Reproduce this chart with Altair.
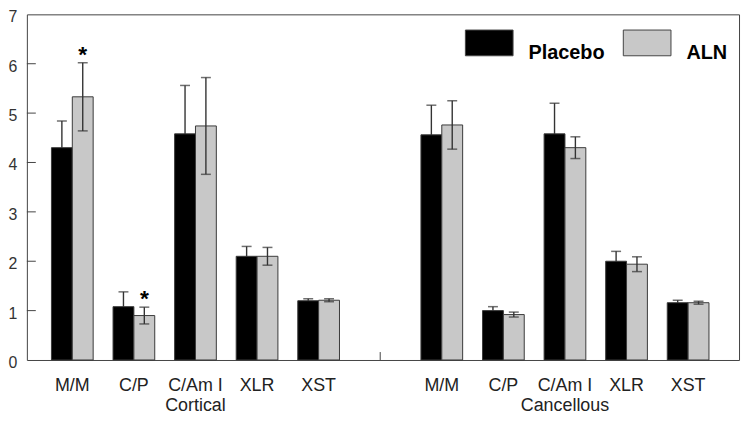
import altair as alt
import pandas as pd

# ---- data ----
sites = ["Cortical", "Cancellous"]
measures = ["M/M", "C/P", "C/Am I", "XLR", "XST"]
groups = ["Placebo", "ALN"]

cortical_placebo = [4.30, 1.08, 4.58, 2.10, 1.20]
cortical_placebo_err = [0.54, 0.30, 0.98, 0.20, 0.04]
cortical_aln = [5.33, 0.90, 4.74, 2.10, 1.21]
cortical_aln_err = [0.69, 0.17, 0.98, 0.18, 0.03]

cancellous_placebo = [4.56, 1.00, 4.58, 2.00, 1.16]
cancellous_placebo_err = [0.60, 0.08, 0.62, 0.20, 0.05]
cancellous_aln = [4.76, 0.92, 4.30, 1.94, 1.16]
cancellous_aln_err = [0.49, 0.05, 0.22, 0.15, 0.03]

# ALN significantly different from placebo (asterisks)
significant = [("Cortical", "M/M"), ("Cortical", "C/P")]

y_ticks = [0, 1, 2, 3, 4, 5, 6, 7]
inner_ticks = [1, 2, 3, 4, 5, 6]

# ---- table ----
GAP = "gap"
slots = [f"Cortical:{m}" for m in measures] + [GAP] + [f"Cancellous:{m}" for m in measures]

series = {
    ("Cortical", "Placebo"): (cortical_placebo, cortical_placebo_err),
    ("Cortical", "ALN"): (cortical_aln, cortical_aln_err),
    ("Cancellous", "Placebo"): (cancellous_placebo, cancellous_placebo_err),
    ("Cancellous", "ALN"): (cancellous_aln, cancellous_aln_err),
}
rows = []
for (site, grp), (vals, errs) in series.items():
    for m, v, e in zip(measures, vals, errs):
        rows.append({
            "slot": f"{site}:{m}", "group": grp, "value": v,
            "lo": v - e, "hi": v + e,
            "star": "*" if (grp == "ALN" and (site, m) in significant) else "",
        })
df = pd.DataFrame(rows)
df_placebo = df[df["group"] == "Placebo"]
df_aln = df[df["group"] == "ALN"]
stars = df[df["star"] != ""]
site_labels = pd.DataFrame({"slot": [f"{s}:C/Am I" for s in sites], "label": sites})
gap_df = pd.DataFrame({"slot": [GAP]})
tick_df = pd.DataFrame({"v": inner_ticks})

W, H = 717, 348
FONT = "Liberation Sans"

x_enc = alt.X(
    "slot:N",
    scale=alt.Scale(domain=slots, paddingInner=0.3226, paddingOuter=0.4435, align=0.45),
    axis=alt.Axis(
        labelExpr="indexof(datum.value, ':') > 0 ? split(datum.value, ':')[1] : ''",
        labelAngle=0, ticks=False, tickSize=0, domain=False, labelPadding=17,
        labelFontSize=18, labelFont=FONT, labelColor="#222", labelOverlap=False,
        labelLimit=0, grid=False,
    ),
    title=None,
)
xoff = alt.XOffset("group:N", scale=alt.Scale(domain=groups, paddingInner=0, paddingOuter=0))
y_scale = alt.Scale(domain=[0, 7], nice=False, zero=True)
y_axis = alt.Axis(
    values=y_ticks, ticks=False, tickSize=0, domain=False, grid=False,
    labelPadding=10, labelOffset=2.5, labelFontSize=16, labelFont=FONT, labelColor="#333",
)


def error_layers(data):
    rule = alt.Chart(data).mark_rule(color="#333", strokeWidth=1.4).encode(
        x=x_enc, xOffset=xoff, y=alt.Y("lo:Q", scale=y_scale, title=None), y2="hi:Q"
    )
    hi = alt.Chart(data).mark_tick(color="#333", size=10, thickness=1.5).encode(
        x=x_enc, xOffset=xoff, y=alt.Y("hi:Q", scale=y_scale, title=None)
    )
    lo = alt.Chart(data).mark_tick(color="#333", size=10, thickness=1.5).encode(
        x=x_enc, xOffset=xoff, y=alt.Y("lo:Q", scale=y_scale, title=None)
    )
    return [rule, hi, lo]


bars = alt.Chart(df).mark_bar(stroke="#3a3a3a", strokeWidth=1).encode(
    x=x_enc,
    xOffset=xoff,
    y=alt.Y("value:Q", scale=y_scale, axis=y_axis, title=None),
    color=alt.Color(
        "group:N",
        scale=alt.Scale(domain=groups, range=["#000000", "#c8c8c8"]),
        legend=alt.Legend(
            orient="none", legendX=441, legendY=4, direction="horizontal", title=None,
            symbolType="M-1,-0.54L1,-0.54L1,0.54L-1,0.54Z", symbolSize=2304,
            symbolStrokeColor="#444", symbolStrokeWidth=1, symbolOpacity=1,
            labelFont=FONT, labelFontSize=20, labelFontWeight="bold", labelColor="#000",
            labelOffset=15, columnPadding=16, labelBaseline="top", padding=0,
        ),
    ),
)

star_text = alt.Chart(stars).mark_text(
    font=FONT, fontSize=23, fontWeight="bold", baseline="alphabetic", dy=-1, color="#000"
).encode(
    x=x_enc, xOffset=xoff, y=alt.Y("hi:Q", scale=y_scale, title=None), text="star:N"
)

site_text = alt.Chart(site_labels).mark_text(
    font=FONT, fontSize=18, baseline="alphabetic", color="#222"
).encode(x=x_enc, y=alt.value(H + 51), text="label:N")

gap_tick = alt.Chart(gap_df).mark_rule(color="#444", strokeWidth=1).encode(
    x=x_enc, y=alt.value(H), y2=alt.value(H - 8)
)

y_inner = alt.Chart(tick_df).mark_rule(color="#444", strokeWidth=1).encode(
    y=alt.Y("v:Q", scale=y_scale, title=None), x=alt.value(0), x2=alt.value(9)
)

chart = alt.layer(
    *error_layers(df_placebo), bars, *error_layers(df_aln),
    star_text, site_text, gap_tick, y_inner
).properties(
    width=W, height=H,
    autosize=alt.AutoSizeParams(type="none"),
    padding={"left": 19, "top": 5, "right": 3, "bottom": 56},
    background="white",
).configure_view(stroke="#444", strokeWidth=1)

chart.save("out.html", embed_options={"renderer": "svg", "actions": False})
